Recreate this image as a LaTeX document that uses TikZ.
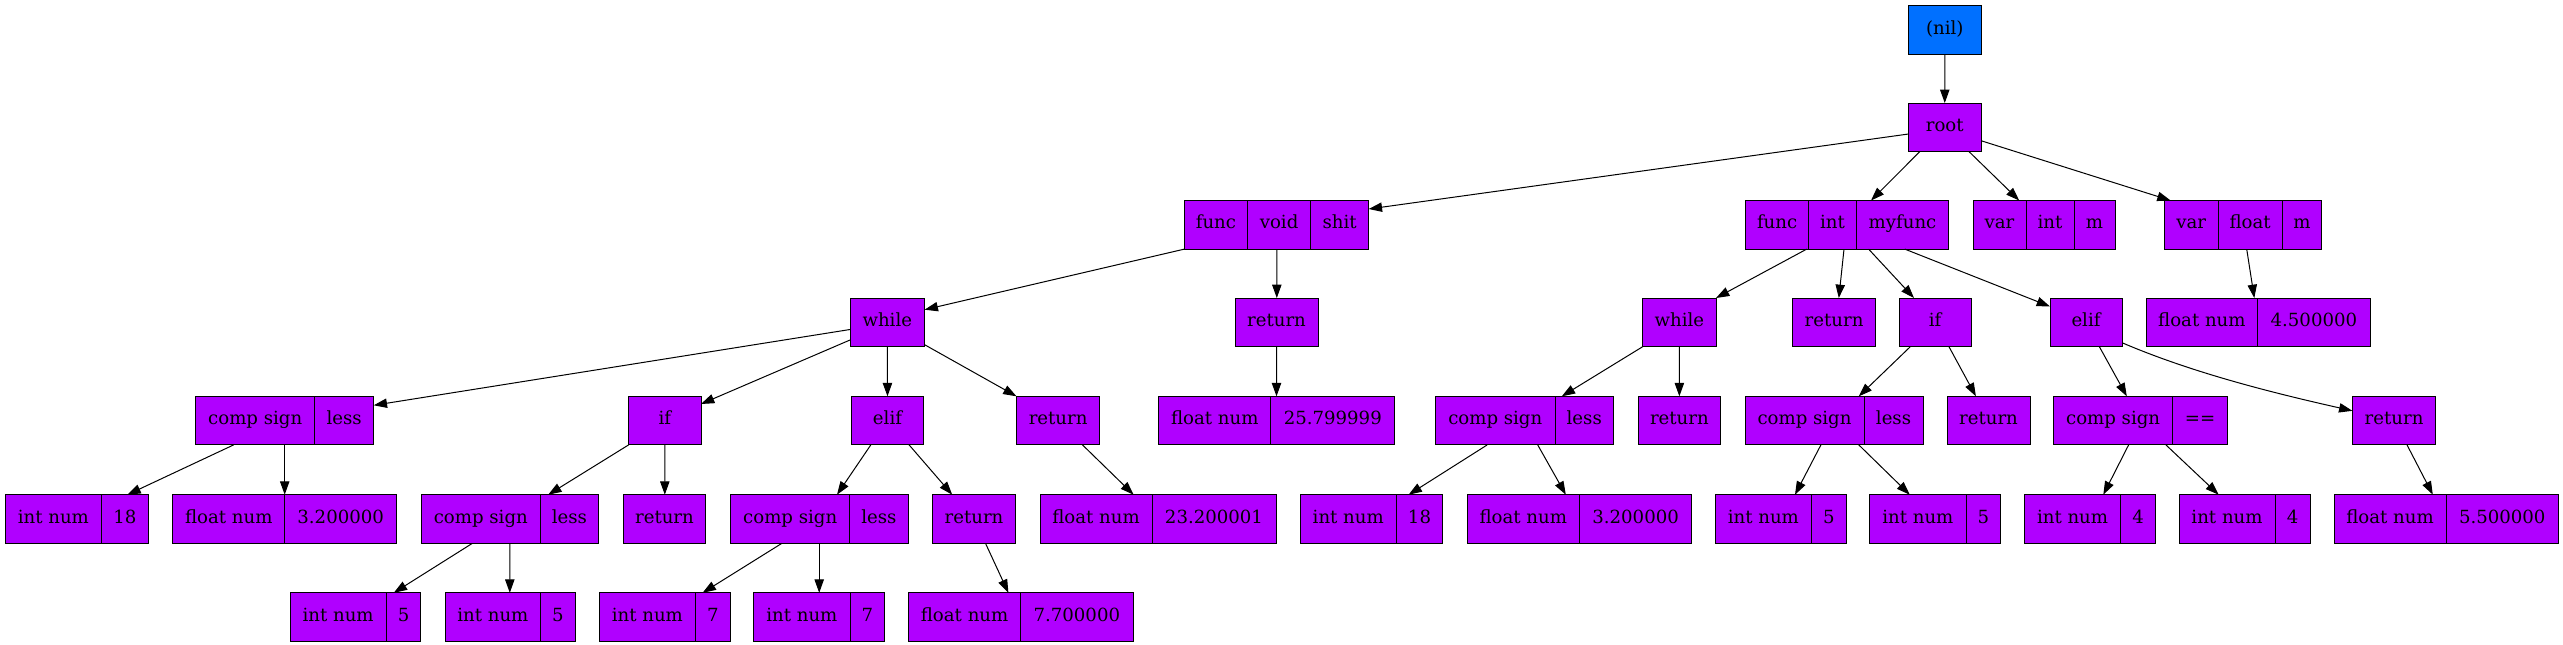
\documentclass[tikz,border=0pt]{standalone}
\usepackage{fontspec}
\setmainfont{DejaVu Serif}
\usetikzlibrary{calc,arrows.meta}
\definecolor{recfill}{HTML}{B000FF}
\definecolor{nilfill}{HTML}{0070FF}
\tikzset{
  rec/.style={draw=black, line width=0.75pt, fill=recfill, inner sep=0pt, outer sep=0pt,
    minimum height=36.45pt, anchor=north west, text height=9pt, text depth=3pt,
    font=\fontsize{13.6}{16}\selectfont},
  lbl/.style={inner sep=0pt, text height=9pt, text depth=3pt, font=\fontsize{13.6}{16}\selectfont},
  recsep/.style={draw=black, line width=0.75pt},
  conn/.style={draw=black, line width=0.75pt, -{Triangle[length=10pt,width=7pt]}},
}
\newcommand\recI[5]{\node[rec, minimum width={#4*0.75pt}] (#1) at (#2,#3) {#5};}
\newcommand\recII[7]{%
 \node[rec, minimum width={(#4+#5)*0.75pt}] (#1) at (#2,#3) {};
 \draw[recsep] ($(#1.north west)+(#4,0)$) -- ($(#1.south west)+(#4,0)$);
 \node[lbl] (#1-a) at ($(#1.west)+({#4/2},0)$) {#6};
 \node[lbl] (#1-b) at ($(#1.west)+({#4+#5/2},0)$) {#7};}
\newcommand\recIII[9]{%
 \node[rec, minimum width={(#4+#5+#6)*0.75pt}] (#1) at (#2,#3) {};
 \draw[recsep] ($(#1.north west)+(#4,0)$) -- ($(#1.south west)+(#4,0)$);
 \draw[recsep] ($(#1.north west)+({#4+#5},0)$) -- ($(#1.south west)+({#4+#5},0)$);
 \node[lbl] (#1-a) at ($(#1.west)+({#4/2},0)$) {#7};
 \node[lbl] (#1-b) at ($(#1.west)+({#4+#5/2},0)$) {#8};
 \node[lbl] (#1-c) at ($(#1.west)+({#4+#5+#6/2},0)$) {#9};}
\begin{document}
\begin{tikzpicture}[x=0.75pt,y=-0.75pt]
\fill[white] (0,0) rectangle (2563,644);
\useasboundingbox (0,0) rectangle (2563,644);
% row 0-1
\node[rec, fill=nilfill, minimum width=54.75pt] (nil) at (1908.3,5.7) {(nil)};
\recI{root}{1908.5}{103}{72.5}{root}
% row 2
\recIII{fvs}{1184.4}{200.5}{63.1}{63.2}{58}{func}{void}{shit}
\recIII{fim}{1745.8}{200.5}{62.6}{48.2}{91.9}{func}{int}{myfunc}
\recIII{vim}{1973}{200.5}{53}{48}{41}{var}{int}{m}
\recIII{vfm}{2164.3}{200.5}{53.7}{64.2}{39.4}{var}{float}{m}
% row 3
\recI{whileA}{850}{298}{74.6}{while}
\recI{retA}{1235}{298}{83}{return}
\recI{whileB}{1642.8}{298}{73.2}{while}
\recI{retB}{1792.7}{298}{82.7}{return}
\recI{ifB}{1899}{298}{72.3}{if}
\recI{elifB}{2050}{298}{72}{elif}
\recII{fnD}{2146}{298}{111.8}{112.2}{float num}{4.500000}
% row 4
\recII{csA}{195.8}{396.3}{118.8}{59.1}{comp sign}{less}
\recI{ifA}{628.6}{396.3}{72.4}{if}
\recI{elifA}{851.5}{396.3}{72}{elif}
\recI{retC}{1016.5}{396.3}{83.2}{return}
\recII{fnB}{1158.8}{396.3}{112}{124}{float num}{25.799999}
\recII{csB}{1435.5}{396.3}{119.5}{58.5}{comp sign}{less}
\recI{retD}{1638}{396.3}{82.7}{return}
\recII{csC}{1745}{396.3}{119}{59}{comp sign}{less}
\recI{retE}{1947}{396.3}{83}{return}
\recII{csD}{2053.4}{396.3}{119.4}{54.5}{comp sign}{==}
\recI{retF}{2352.4}{396.3}{83.3}{return}
% row 5
\recII{inA}{5.2}{494.7}{96.4}{46.4}{int num}{18}
\recII{fnA}{172.8}{494.7}{111.9}{112}{float num}{3.200000}
\recII{csE}{421.4}{494.7}{118.8}{58.5}{comp sign}{less}
\recI{retG}{623.4}{494.7}{82.1}{return}
\recII{csF}{730.8}{494.7}{118.8}{58.7}{comp sign}{less}
\recI{retH}{932.7}{494.7}{82.6}{return}
\recII{fnC}{1040}{494.7}{112}{124}{float num}{23.200001}
\recII{inB}{1300}{494.7}{96.5}{46}{int num}{18}
\recII{fnE}{1467}{494.7}{112.6}{112}{float num}{3.200000}
\recII{inC}{1715}{494.7}{96.7}{34.3}{int num}{5}
\recII{inD}{1869.7}{494.7}{96.3}{34.5}{int num}{5}
\recII{inE}{2024.6}{494.7}{95.9}{35}{int num}{4}
\recII{inF}{2179}{494.7}{96}{35}{int num}{4}
\recII{fnF}{2334}{494.7}{112}{112.5}{float num}{5.500000}
% row 6
\recII{inG}{290}{592.8}{96.3}{34.5}{int num}{5}
\recII{inH}{445}{592.8}{95.8}{34.2}{int num}{5}
\recII{inI}{599}{592.8}{96.8}{34.2}{int num}{7}
\recII{inJ}{753.8}{592.8}{96.2}{34.6}{int num}{7}
\recII{fnG}{908.6}{592.8}{112}{112.5}{float num}{7.700000}
% edges
\draw[conn] (nil.south) -- (root.north);
\draw[conn] ($(root.north west)+(0,31)$) -- ($(fvs.north east)+(0,8.5)$);
\draw[conn] ($(root.south west)+(11.3,0)$) -- ($(fim.north west)+(125.2,0)$);
\draw[conn] ($(root.south west)+(60.5,0)$) -- ($(vim.north west)+(46.2,0)$);
\draw[conn] ($(root.north east)+(0,37.7)$) -- ($(vfm.north west)+(6.3,0)$);
\draw[conn] (fvs.south west) -- ($(whileA.north east)+(0,11.7)$);
\draw[conn] ($(fvs.south west)+(92.4,0)$) -- ($(retA.north west)+(41.8,0)$);
\draw[conn] ($(fim.south west)+(60.9,0)$) -- (whileB.north east);
\draw[conn] ($(fim.south west)+(98.2,0)$) -- ($(retB.north west)+(46.1,0)$);
\draw[conn] ($(fim.south west)+(122.8,0)$) -- ($(ifB.north west)+(15,0)$);
\draw[conn] ($(fim.south west)+(159,0)$) -- ($(elifB.north west)+(0,8.5)$);
\draw[conn] ($(vfm.south west)+(82.4,0)$) -- ($(fnD.north west)+(108.3,0)$);
\draw[conn] ($(whileA.north west)+(0,31.5)$) -- ($(csA.north east)+(0,9)$);
\draw[conn] ($(whileA.north west)+(0,42)$) -- ($(ifA.north east)+(0,7.7)$);
\draw[conn] (whileA.south) -- (elifA.north);
\draw[conn] ($(whileA.north east)+(0,46.7)$) -- (retC.north west);
\draw[conn] ($(csA.south west)+(37.8,0)$) -- ($(inA.north west)+(122.2,0)$);
\draw[conn] ($(csA.south west)+(88.9,0)$) -- ($(fnA.north west)+(111.9,0)$);
\draw[conn] (ifA.south west) -- ($(csE.north west)+(126.8,0)$);
\draw[conn] (ifA.south) -- ($(retG.north west)+(41.4,0)$);
\draw[conn] ($(csE.south west)+(51,0)$) -- ($(inG.north west)+(103.8,0)$);
\draw[conn] ($(csE.south west)+(88.4,0)$) -- ($(inH.north west)+(64.8,0)$);
\draw[conn] ($(elifA.south west)+(19.3,0)$) -- ($(csF.north west)+(106.2,0)$);
\draw[conn] ($(elifA.south west)+(57.6,0)$) -- ($(retH.north west)+(19.5,0)$);
\draw[conn] ($(csF.south west)+(51.1,0)$) -- ($(inI.north west)+(103.6,0)$);
\draw[conn] ($(csF.south west)+(88.4,0)$) -- ($(inJ.north west)+(65.4,0)$);
\draw[conn] ($(retH.south west)+(52.8,0)$) -- ($(fnG.north west)+(99.8,0)$);
\draw[conn] ($(retC.south west)+(66,0)$) -- ($(fnC.north west)+(93.6,0)$);
\draw[conn] (retA.south) -- ($(fnB.north west)+(117.7,0)$);
\draw[conn] (whileB.south west) -- ($(csB.north west)+(126.3,0)$);
\draw[conn] (whileB.south) -- (retD.north);
\draw[conn] ($(csB.south west)+(51.7,0)$) -- ($(inB.north west)+(108.6,0)$);
\draw[conn] ($(csB.south west)+(102.2,0)$) -- ($(fnE.north west)+(98.8,0)$);
\draw[conn] ($(ifB.south west)+(11.4,0)$) -- ($(csC.north west)+(113.8,0)$);
\draw[conn] ($(ifB.south west)+(49.9,0)$) -- ($(retE.north west)+(28.9,0)$);
\draw[conn] ($(elifB.south west)+(49.3,0)$) -- ($(csD.north west)+(73.4,0)$);
\draw[conn] ($(elifB.north east)+(0,44.7)$) .. controls +(70,30) and +(-80,-18) .. ($(retF.north west)+(0,14.5)$);
\draw[conn] ($(csC.south west)+(75.9,0)$) -- ($(inC.north west)+(80,0)$);
\draw[conn] ($(csC.south west)+(113.8,0)$) -- ($(inD.north west)+(40.1,0)$);
\draw[conn] ($(csD.south west)+(75.2,0)$) -- ($(inE.north west)+(78.7,0)$);
\draw[conn] ($(csD.south west)+(112.5,0)$) -- ($(inF.north west)+(39.7,0)$);
\draw[conn] ($(retF.south west)+(54.6,0)$) -- ($(fnF.north west)+(98.8,0)$);
\end{tikzpicture}
\end{document}
